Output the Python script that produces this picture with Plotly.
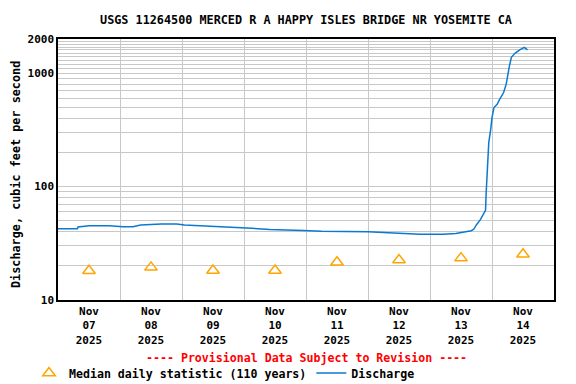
import plotly.graph_objects as go

# ---------------- data ----------------
discharge_time = [
    "2025-11-07 00:00", "2025-11-07 07:30", "2025-11-07 07:45", "2025-11-07 12:00",
    "2025-11-07 20:00", "2025-11-08 01:00", "2025-11-08 05:00", "2025-11-08 08:00",
    "2025-11-08 16:00", "2025-11-08 22:00", "2025-11-09 01:00", "2025-11-09 10:00",
    "2025-11-09 15:00", "2025-11-10 01:00", "2025-11-10 10:00", "2025-11-10 23:00",
    "2025-11-11 06:00", "2025-11-12 00:00", "2025-11-12 08:00", "2025-11-12 14:00",
    "2025-11-12 20:00", "2025-11-13 05:00", "2025-11-13 10:00", "2025-11-13 14:00",
    "2025-11-13 16:00", "2025-11-13 17:00", "2025-11-13 18:00", "2025-11-13 19:30",
    "2025-11-13 20:30", "2025-11-13 21:30", "2025-11-13 21:45", "2025-11-13 22:15",
    "2025-11-13 22:45", "2025-11-13 23:30", "2025-11-14 00:00", "2025-11-14 00:45",
    "2025-11-14 02:00", "2025-11-14 03:00", "2025-11-14 04:30", "2025-11-14 05:30",
    "2025-11-14 06:00", "2025-11-14 06:45", "2025-11-14 07:30", "2025-11-14 09:00",
    "2025-11-14 10:45", "2025-11-14 12:30", "2025-11-14 13:45",
]
discharge_cfs = [
    42.5, 42.5, 44.0, 45.2,
    45.2, 44.3, 44.3, 45.8,
    46.8, 46.8, 45.8, 45.2,
    44.3, 43.1, 41.9, 41.0,
    40.3, 40.0, 39.4, 38.6,
    37.9, 37.9, 38.6, 39.7,
    40.8, 42.2, 46.1, 51.1,
    56.5, 61.7, 88.5, 157,
    244, 319, 405, 497,
    532, 589, 675, 800,
    946, 1161, 1378, 1503,
    1607, 1688, 1607,
]

median_time = ["2025-11-07 12:00", "2025-11-08 12:00", "2025-11-09 12:00", "2025-11-10 12:00",
               "2025-11-11 12:00", "2025-11-12 12:00", "2025-11-13 12:00", "2025-11-14 12:00"]
median_cfs = [18.1, 19.4, 18.2, 18.2, 21.5, 22.5, 23.4, 25.3]

x_tick_vals = median_time
x_tick_text = ["Nov<br>07<br>2025", "Nov<br>08<br>2025", "Nov<br>09<br>2025", "Nov<br>10<br>2025",
               "Nov<br>11<br>2025", "Nov<br>12<br>2025", "Nov<br>13<br>2025", "Nov<br>14<br>2025"]
x_grid_vals = ["2025-11-08", "2025-11-09", "2025-11-10", "2025-11-11",
               "2025-11-12", "2025-11-13", "2025-11-14"]

y_grid_vals = ([10, 20, 30, 40, 50, 60, 70, 80, 90]
               + [100, 200, 300, 400, 500, 600, 700, 800, 900]
               + [1000, 1100, 1200, 1300, 1400, 1500, 1600, 1700, 1800, 1900, 2000])
y_labels = {10: "10", 100: "100", 1000: "1000", 2000: "2000"}
y_tick_text = [y_labels.get(v, "") for v in y_grid_vals]

title_text = "USGS 11264500 MERCED R A HAPPY ISLES BRIDGE NR YOSEMITE CA"
y_title = "Discharge, cubic feet per second"
provisional = "---- Provisional Data Subject to Revision ----"
median_name = "Median daily statistic (110 years)"
discharge_name = "Discharge"

# ---------------- figure ----------------
# the page body adds an 8px margin, so the figure is drawn 8px smaller / shifted
OFF = 8
FONT = "DejaVu Sans Mono"
W, H = 576 - OFF, 384 - OFF
L, R, T, B = 58 - OFF, 22, 39 - OFF, 84
PH = H - T - B
PW = W - L - R


def ypos(page_y):
    # paper y coordinate for a page pixel row
    return (300 - page_y) / PH


fig = go.Figure()
fig.add_trace(go.Scatter(
    x=median_time, y=median_cfs, mode="markers",
    name="<b>" + median_name + "</b>",
    marker=dict(symbol="triangle-up-open", size=11, color="#FFA500", line=dict(width=1.5, color="#FFA500")),
))
fig.add_trace(go.Scatter(
    x=discharge_time, y=discharge_cfs, mode="lines", name="<b>" + discharge_name + "</b>",
    line=dict(color="#0a7ad0", width=1.5),
))

fig.update_layout(
    width=W, height=H,
    margin=dict(l=L, r=R, t=T, b=B, autoexpand=False),
    paper_bgcolor="white", plot_bgcolor="white",
    font=dict(family=FONT, size=11, color="black"),
    title=dict(text="<b>" + title_text + "</b>", x=0.5, xref="paper", xanchor="center",
               y=1 - (20 - OFF) / H, yref="container", yanchor="middle",
               font=dict(family=FONT, size=11.8, color="black")),
    showlegend=True,
    legend=dict(orientation="h", x=(29 - 58) / PW, xanchor="left", y=ypos(373), yanchor="middle",
                font=dict(family=FONT, size=11.6, color="black"), bgcolor="rgba(0,0,0,0)",
                itemwidth=30, tracegroupgap=0),
)
fig.update_xaxes(
    type="date", range=["2025-11-07 00:00", "2025-11-15 00:00"],
    tickmode="array", tickvals=x_tick_vals,
    ticktext=["<b>" + t.replace("<br>", "</b><br><b>") + "</b>" for t in x_tick_text],
    ticks="", showgrid=False, automargin=False,
    minor=dict(tickmode="array", tickvals=x_grid_vals, showgrid=True, gridcolor="#c8c8c8", gridwidth=1, ticks=""),
    showline=True, linecolor="black", linewidth=1.5, mirror=True,
    tickfont=dict(family=FONT, size=11, color="black"), zeroline=False,
)
fig.update_yaxes(
    type="log", range=[1, 3.30103],
    tickmode="array", tickvals=y_grid_vals,
    ticktext=["<b>" + t + "</b>" if t else "" for t in y_tick_text],
    ticks="", showgrid=True, gridcolor="#c8c8c8", gridwidth=1, automargin=False,
    showline=True, linecolor="black", linewidth=1.5, mirror=True,
    tickfont=dict(family=FONT, size=11, color="black"), zeroline=False,
)

fig.add_annotation(text="<b>" + y_title + "</b>", xref="paper", yref="paper",
                   x=(16 - 58) / PW, y=(300 - 175) / PH, xanchor="center", yanchor="middle",
                   textangle=-90, showarrow=False, font=dict(family=FONT, size=11.8, color="black"))
fig.add_annotation(text="<b>" + provisional + "</b>", xref="paper", yref="paper",
                   x=0.5, y=ypos(358), xanchor="center", yanchor="middle",
                   showarrow=False, font=dict(family=FONT, size=11.6, color="red"))

fig.write_html("out.html")
